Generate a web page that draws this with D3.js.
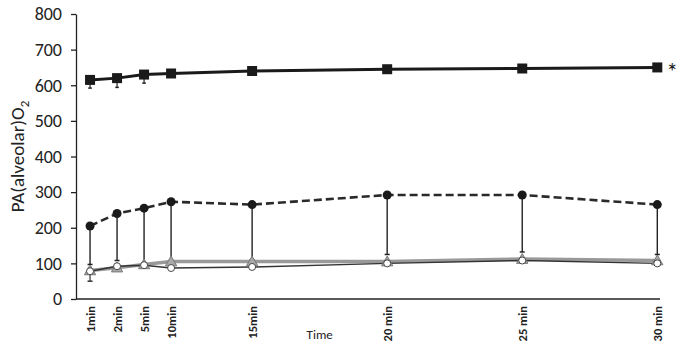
<!DOCTYPE html>
<html>
<head>
<meta charset="utf-8">
<script src="https://cdnjs.cloudflare.com/ajax/libs/d3/7.8.5/d3.min.js"></script>
<style>
  body { margin: 0; background: #fff; }
  text { font-family: Calibri, Carlito, Lato, "Open Sans", sans-serif; fill: #222; }
</style>
</head>
<body>
<div class="chart"></div>
<script>
// time points and their slot on the (uneven) category axis
var timeLabels = ["1min", "2min", "5min", "10min", "15min", "20 min", "25 min", "30 min"];
var timeSlots = [0, 1, 2, 3, 6, 11, 16, 21];

var yTicks = [0, 100, 200, 300, 400, 500, 600, 700, 800];

// series values
var squareVals = [615, 620, 630, 633, 640, 645, 647, 650];
var squareLow = [592, 594, 606, 624, 628, 638, 640, 648];

var dotVals = [205, 240, 255, 273, 265, 292, 292, 265];
var dotLow = [97, 108, 98, 108, 110, 125, 132, 125];

var triVals = [80, 88, 97, 105, 105, 105, 112, 108];
var triLow = [50, 80, 90, 100, 100, 100, 105, 100];

var openVals = [78, 92, 95, 87, 90, 100, 108, 100];

var svgWidth = 681;
var svgHeight = 348;
var margin = { top: 14, right: 21, bottom: 49, left: 76 };
var width = svgWidth - margin.left - margin.right;
var height = svgHeight - margin.top - margin.bottom;

var svg = d3.select(".chart")
    .append("svg")
    .attr("width", svgWidth)
    .attr("height", svgHeight);

var chart = svg.append("g")
    .attr("transform", "translate(" + margin.left + "," + margin.top + ")");

var xScale = d3.scaleLinear().domain([-0.52, 21.1]).range([0, width]);
var yScale = d3.scaleLinear().domain([0, 800]).range([height, 0]);

// axes
var leftAxis = d3.axisLeft(yScale).tickValues(yTicks).tickSize(5).tickSizeOuter(0);
var yAxis = chart.append("g").call(leftAxis);
yAxis.select(".domain").attr("stroke", "#222").attr("stroke-width", 1.3);
yAxis.selectAll(".tick line").attr("stroke", "#222").attr("stroke-width", 1.3);
yAxis.selectAll(".tick text")
    .attr("x", -14)
    .style("font-size", "18px")
    .style("font-family", "Calibri, Carlito, Lato, sans-serif")
    .attr("fill", "#222");

chart.append("line")
    .attr("x1", 0).attr("x2", width)
    .attr("y1", height).attr("y2", height)
    .attr("stroke", "#222").attr("stroke-width", 1.3);

chart.selectAll(".xlab")
    .data(timeLabels)
    .enter()
    .append("text")
    .attr("class", "xlab")
    .attr("transform", function(d, i) {
        return "translate(" + (xScale(timeSlots[i]) + 4.5) + "," + (height + 7) + ") rotate(-90)";
    })
    .attr("text-anchor", "end")
    .style("font-size", "12.5px")
    .style("font-weight", "bold")
    .text(function(d) { return d; });

chart.append("text")
    .attr("x", xScale(8.5))
    .attr("y", height + 40)
    .attr("text-anchor", "middle")
    .style("font-size", "13px")
    .text("Time");

var yTitle = chart.append("text")
    .attr("transform", "translate(" + (-52) + "," + (height / 2) + ") rotate(-90)")
    .attr("text-anchor", "middle")
    .style("font-size", "19px");
yTitle.append("tspan").text("PA(alveolar)O");
yTitle.append("tspan").attr("dy", 5).style("font-size", "13px").text("2");

function makeLine(vals) {
    return d3.line()
        .x(function(d, i) { return xScale(timeSlots[i]); })
        .y(function(d) { return yScale(d); })(vals);
}

function errorBars(vals, low, color, width, cap) {
    var g = chart.append("g");
    vals.forEach(function(v, i) {
        var x = xScale(timeSlots[i]);
        g.append("line")
            .attr("x1", x).attr("x2", x)
            .attr("y1", yScale(v)).attr("y2", yScale(low[i]))
            .attr("stroke", color).attr("stroke-width", width);
        g.append("line")
            .attr("x1", x - cap).attr("x2", x + cap)
            .attr("y1", yScale(low[i])).attr("y2", yScale(low[i]))
            .attr("stroke", color).attr("stroke-width", 1.5);
    });
}

// error bars
errorBars(dotVals, dotLow, "#222", 1.4, 2.5);
errorBars(triVals, triLow, "#333", 1.2, 2.5);
errorBars(squareVals, squareLow, "#222", 1.2, 1.8);

// grey triangles series
chart.append("path")
    .attr("d", makeLine(triVals))
    .attr("fill", "none")
    .attr("stroke", "#999")
    .attr("stroke-width", 3.5);

// open circles series
chart.append("path")
    .attr("d", makeLine(openVals))
    .attr("fill", "none")
    .attr("stroke", "#333")
    .attr("stroke-width", 1.5);

chart.selectAll(".tri")
    .data(triVals)
    .enter()
    .append("path")
    .attr("class", "tri")
    .attr("d", d3.symbol().type(d3.symbolTriangle).size(55))
    .attr("transform", function(d, i) {
        return "translate(" + xScale(timeSlots[i]) + "," + (yScale(d) + 1) + ")";
    })
    .attr("fill", "#aaa")
    .attr("stroke", "#777")
    .attr("stroke-width", 1);

chart.selectAll(".open")
    .data(openVals)
    .enter()
    .append("circle")
    .attr("class", "open")
    .attr("cx", function(d, i) { return xScale(timeSlots[i]); })
    .attr("cy", function(d) { return yScale(d); })
    .attr("r", 3.5)
    .attr("fill", "#fff")
    .attr("stroke", "#444")
    .attr("stroke-width", 1);

// dashed black circles
chart.append("path")
    .attr("d", makeLine(dotVals))
    .attr("fill", "none")
    .attr("stroke", "#2a2a2a")
    .attr("stroke-width", 2.6)
    .attr("stroke-dasharray", "8,4");

chart.selectAll(".dot")
    .data(dotVals)
    .enter()
    .append("circle")
    .attr("class", "dot")
    .attr("cx", function(d, i) { return xScale(timeSlots[i]); })
    .attr("cy", function(d) { return yScale(d); })
    .attr("r", 4.5)
    .attr("fill", "#1a1a1a");

// solid black squares
chart.append("path")
    .attr("d", makeLine(squareVals))
    .attr("fill", "none")
    .attr("stroke", "#1a1a1a")
    .attr("stroke-width", 3);

chart.selectAll(".sq")
    .data(squareVals)
    .enter()
    .append("rect")
    .attr("class", "sq")
    .attr("x", function(d, i) { return xScale(timeSlots[i]) - 5; })
    .attr("y", function(d) { return yScale(d) - 5; })
    .attr("width", 10)
    .attr("height", 10)
    .attr("fill", "#1a1a1a");

chart.append("text")
    .attr("x", xScale(timeSlots[7]) + 9)
    .attr("y", yScale(squareVals[7]) + 13)
    .style("font-size", "24px")
    .text("*");
</script>
</body>
</html>
